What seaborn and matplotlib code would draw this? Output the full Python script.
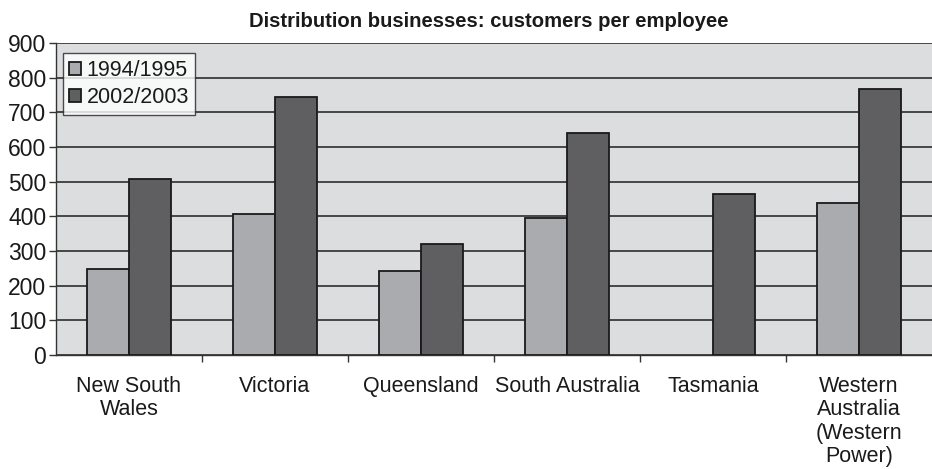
import numpy as np
import pandas as pd
import matplotlib
matplotlib.use("Agg")
import matplotlib.pyplot as plt
from matplotlib.ticker import FixedLocator, MultipleLocator
import seaborn as sns

regions = ["New South\nWales", "Victoria", "Queensland", "South Australia",
           "Tasmania", "Western\nAustralia\n(Western\nPower)"]
years = ["1994/1995", "2002/2003"]
cust_1995 = [247, 407, 243, 394, np.nan, 439]
cust_2003 = [508, 745, 320, 641, 465, 767]

df = pd.DataFrame({
    "region": regions * 2,
    "year": [years[0]] * len(regions) + [years[1]] * len(regions),
    "customers": cust_1995 + cust_2003,
})

sns.set_style("white")
plt.rcParams["font.family"] = ["Liberation Sans", "DejaVu Sans"]

fig = plt.figure(figsize=(9.32, 4.69), dpi=100)
ax = fig.add_axes([0.060, 0.243, 0.94, 0.665])
ax.set_facecolor("#dcdddf")

sns.barplot(data=df, x="region", y="customers", hue="year",
            palette=["#aaabaf", "#5f5f61"], width=0.575,
            edgecolor="#1a1a1a", linewidth=1.3, saturation=1,
            ax=ax, zorder=3)

ax.set_ylim(0, 900)
ax.set_xlim(-0.5, len(regions) - 0.5)
ax.yaxis.set_major_locator(MultipleLocator(100))
ax.grid(axis="y", color="#1e1e1e", linewidth=1.1, zorder=0)
ax.set_axisbelow(True)

ax.set_xlabel("")
ax.set_ylabel("")
ax.tick_params(axis="y", labelsize=16.5, length=5, width=1, color="#333333",
               labelcolor="#1a1a1a", left=True, pad=2)
ax.tick_params(axis="x", which="major", labelsize=15.5, length=0, pad=15,
               labelcolor="#1a1a1a")
ax.xaxis.set_minor_locator(FixedLocator(np.arange(0.5, len(regions) - 1, 1)))
ax.tick_params(axis="x", which="minor", length=5, width=1, color="#333333",
               bottom=True)
for lbl in ax.get_xticklabels():
    lbl.set_verticalalignment("top")
    lbl.set_linespacing(1.15)

for side in ["top", "right"]:
    ax.spines[side].set_visible(False)
for side in ["left", "bottom"]:
    ax.spines[side].set_color("#333333")
    ax.spines[side].set_linewidth(1.0)

leg = ax.legend(loc="upper left", bbox_to_anchor=(-0.003, 0.998), fontsize=15.5,
                frameon=True, fancybox=False, edgecolor="#222222",
                handlelength=0.55, handleheight=0.55, handletextpad=0.25,
                borderpad=0.3, labelspacing=0.3, borderaxespad=0.45)
leg.get_frame().set_linewidth(1.0)
leg.get_frame().set_facecolor("white")
for t in leg.get_texts():
    t.set_color("#1a1a1a")

fig.suptitle("Distribution businesses: customers per employee",
             x=0.524, y=0.975, fontsize=14.6, fontweight="bold",
             color="#1a1a1a")

fig.savefig("out.png", dpi=100)
